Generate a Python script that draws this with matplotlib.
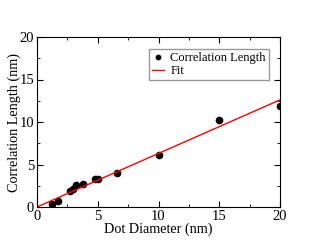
import numpy as np
import matplotlib.pyplot as plt
from matplotlib.ticker import MultipleLocator

plt.rcParams['font.family'] = ['Liberation Serif', 'DejaVu Serif']

# datos
diametro = [1.2, 1.75, 2.7, 2.95, 3.25, 3.75, 4.77, 5.0, 6.55, 10.0, 15.0, 20.0]
longitud = [0.35, 0.67, 1.9, 2.1, 2.55, 2.75, 3.25, 3.25, 4.0, 6.1, 10.2, 11.9]
pendiente = 0.63
ajuste_x = [0, 20]

figura = plt.figure(figsize=(3.15, 2.44), dpi=100)
lienzo = figura.add_axes([37/315, 37/244, 243/315, 170/244])

lienzo.plot(diametro, longitud, 'o', color='black', markersize=4.5, label='Correlation Length')
lienzo.plot(ajuste_x, [pendiente*x for x in ajuste_x], color='red', lw=1, label='Fit')

lienzo.set_xlim(0, 20)
lienzo.set_ylim(0, 20)
lienzo.xaxis.set_major_locator(MultipleLocator(5))
lienzo.xaxis.set_minor_locator(MultipleLocator(2.5))
lienzo.yaxis.set_major_locator(MultipleLocator(5))
lienzo.yaxis.set_minor_locator(MultipleLocator(2.5))
lienzo.tick_params(which='both', direction='in', top=True, right=True, labelsize=10.5, pad=2)
lienzo.tick_params(which='major', length=4)
lienzo.tick_params(which='minor', length=2)
lienzo.set_xlabel('Dot Diameter (nm)', fontsize=10.2, labelpad=0)
lienzo.set_ylabel('Correlation Length (nm)', fontsize=10.2, labelpad=-1)

lienzo.legend(loc='upper right', bbox_to_anchor=(0.955, 0.93), fontsize=9, frameon=True,
              fancybox=False, edgecolor='gray', handlelength=1, handletextpad=0.5,
              borderpad=0.25, labelspacing=0.1, borderaxespad=0, markerscale=0.7)

figura.savefig('out.png', dpi=100)
